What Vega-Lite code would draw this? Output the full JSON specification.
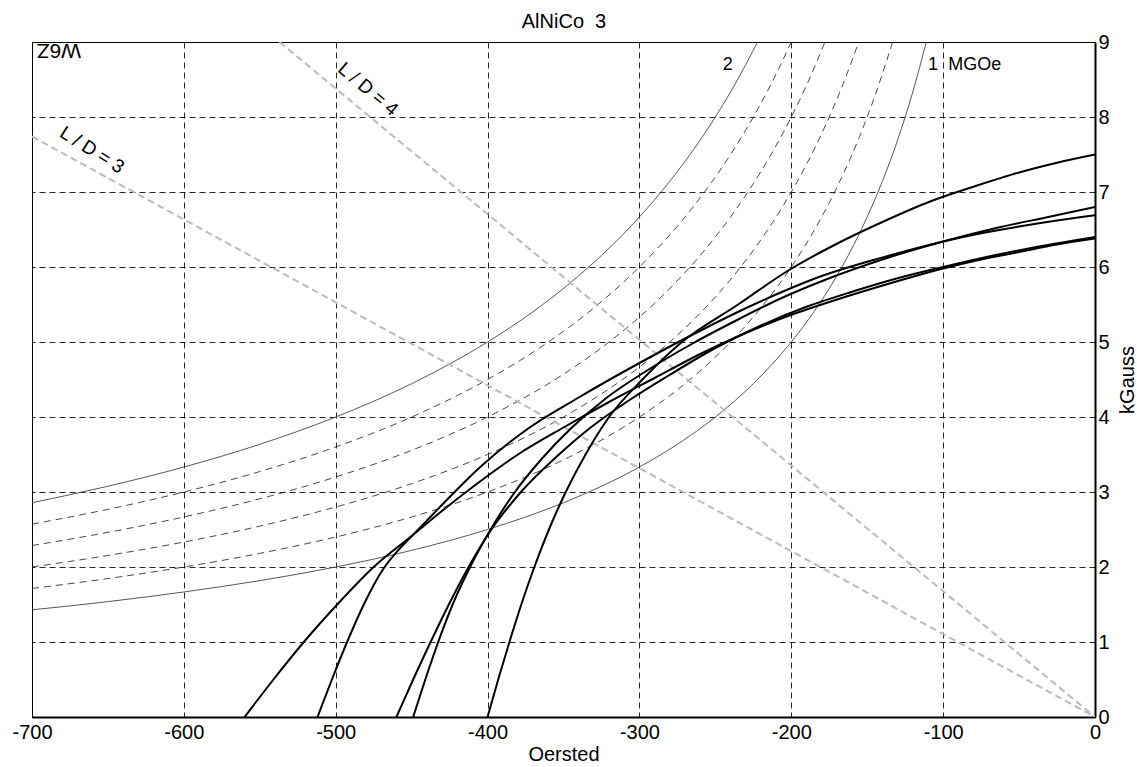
{
  "$schema": "https://vega.github.io/schema/vega-lite/v6.json",
  "width": 1063,
  "height": 675,
  "autosize": {"type": "none"},
  "padding": {"left": 32, "top": 42, "right": 42, "bottom": 50},
  "background": "white",
  "config": {"view": {"stroke": "black", "strokeWidth": 1}, "font": "Liberation Sans"},
  "datasets": {
    "demag": [
      {"s": "C1", "H": -400, "B": 0}, {"s": "C1", "H": -393, "B": 0.5}, {"s": "C1", "H": -385.6, "B": 1.0}, {"s": "C1", "H": -377.8, "B": 1.5}, {"s": "C1", "H": -369.2, "B": 2.0}, {"s": "C1", "H": -359.6, "B": 2.5}, {"s": "C1", "H": -348.5, "B": 3.0}, {"s": "C1", "H": -335.5, "B": 3.5}, {"s": "C1", "H": -320, "B": 4.0}, {"s": "C1", "H": -298, "B": 4.5}, {"s": "C1", "H": -272, "B": 5.0}, {"s": "C1", "H": -235, "B": 5.5}, {"s": "C1", "H": -203, "B": 5.94}, {"s": "C1", "H": -170, "B": 6.31}, {"s": "C1", "H": -140, "B": 6.6}, {"s": "C1", "H": -109, "B": 6.87}, {"s": "C1", "H": -80, "B": 7.07}, {"s": "C1", "H": -50, "B": 7.26}, {"s": "C1", "H": -25, "B": 7.39}, {"s": "C1", "H": 0, "B": 7.5},
      {"s": "C2", "H": -512, "B": 0}, {"s": "C2", "H": -502.5, "B": 0.5}, {"s": "C2", "H": -492.5, "B": 1.0}, {"s": "C2", "H": -481.5, "B": 1.5}, {"s": "C2", "H": -468.5, "B": 1.98}, {"s": "C2", "H": -459, "B": 2.22}, {"s": "C2", "H": -449.5, "B": 2.42}, {"s": "C2", "H": -439, "B": 2.64}, {"s": "C2", "H": -428, "B": 2.87}, {"s": "C2", "H": -405, "B": 3.33}, {"s": "C2", "H": -373, "B": 3.85}, {"s": "C2", "H": -340, "B": 4.26}, {"s": "C2", "H": -300, "B": 4.72}, {"s": "C2", "H": -260, "B": 5.15}, {"s": "C2", "H": -230, "B": 5.45}, {"s": "C2", "H": -207, "B": 5.66}, {"s": "C2", "H": -180, "B": 5.88}, {"s": "C2", "H": -150, "B": 6.07}, {"s": "C2", "H": -125, "B": 6.21}, {"s": "C2", "H": -100, "B": 6.34}, {"s": "C2", "H": -75, "B": 6.45}, {"s": "C2", "H": -50, "B": 6.54}, {"s": "C2", "H": -25, "B": 6.62}, {"s": "C2", "H": 0, "B": 6.69},
      {"s": "C3", "H": -560, "B": 0}, {"s": "C3", "H": -541, "B": 0.5}, {"s": "C3", "H": -521, "B": 1.0}, {"s": "C3", "H": -499, "B": 1.5}, {"s": "C3", "H": -475, "B": 2.0}, {"s": "C3", "H": -449, "B": 2.43}, {"s": "C3", "H": -428, "B": 2.78}, {"s": "C3", "H": -405, "B": 3.14}, {"s": "C3", "H": -380, "B": 3.5}, {"s": "C3", "H": -350, "B": 3.86}, {"s": "C3", "H": -320, "B": 4.2}, {"s": "C3", "H": -290, "B": 4.52}, {"s": "C3", "H": -260, "B": 4.84}, {"s": "C3", "H": -230, "B": 5.12}, {"s": "C3", "H": -207, "B": 5.31}, {"s": "C3", "H": -180, "B": 5.5}, {"s": "C3", "H": -142, "B": 5.74}, {"s": "C3", "H": -100, "B": 5.98}, {"s": "C3", "H": -75, "B": 6.1}, {"s": "C3", "H": -50, "B": 6.2}, {"s": "C3", "H": -25, "B": 6.3}, {"s": "C3", "H": 0, "B": 6.38},
      {"s": "C4", "H": -460, "B": 0}, {"s": "C4", "H": -449, "B": 0.5}, {"s": "C4", "H": -437.5, "B": 1.0}, {"s": "C4", "H": -425.5, "B": 1.5}, {"s": "C4", "H": -412.5, "B": 2.0}, {"s": "C4", "H": -397.5, "B": 2.5}, {"s": "C4", "H": -378, "B": 3.0}, {"s": "C4", "H": -353, "B": 3.5}, {"s": "C4", "H": -334, "B": 3.83}, {"s": "C4", "H": -307, "B": 4.22}, {"s": "C4", "H": -281, "B": 4.55}, {"s": "C4", "H": -250, "B": 4.92}, {"s": "C4", "H": -220, "B": 5.22}, {"s": "C4", "H": -190, "B": 5.47}, {"s": "C4", "H": -160, "B": 5.67}, {"s": "C4", "H": -130, "B": 5.85}, {"s": "C4", "H": -100, "B": 6.0}, {"s": "C4", "H": -70, "B": 6.14}, {"s": "C4", "H": -35, "B": 6.28}, {"s": "C4", "H": 0, "B": 6.4},
      {"s": "C5", "H": -449, "B": 0}, {"s": "C5", "H": -441, "B": 0.5}, {"s": "C5", "H": -432.5, "B": 1.0}, {"s": "C5", "H": -423, "B": 1.5}, {"s": "C5", "H": -411.5, "B": 2.0}, {"s": "C5", "H": -398, "B": 2.5}, {"s": "C5", "H": -382, "B": 3.0}, {"s": "C5", "H": -364, "B": 3.45}, {"s": "C5", "H": -345, "B": 3.85}, {"s": "C5", "H": -322, "B": 4.25}, {"s": "C5", "H": -295, "B": 4.62}, {"s": "C5", "H": -265, "B": 4.98}, {"s": "C5", "H": -235, "B": 5.3}, {"s": "C5", "H": -207, "B": 5.58}, {"s": "C5", "H": -175, "B": 5.85}, {"s": "C5", "H": -140, "B": 6.1}, {"s": "C5", "H": -100, "B": 6.34}, {"s": "C5", "H": -65, "B": 6.52}, {"s": "C5", "H": -30, "B": 6.67}, {"s": "C5", "H": 0, "B": 6.8}
    ],
    "energySolid": [
      {"s": "E1", "H": -700, "B": 1.429}, {"s": "E1", "H": -650, "B": 1.538}, {"s": "E1", "H": -600, "B": 1.667}, {"s": "E1", "H": -550, "B": 1.818}, {"s": "E1", "H": -500, "B": 2.0}, {"s": "E1", "H": -450, "B": 2.222}, {"s": "E1", "H": -400, "B": 2.5}, {"s": "E1", "H": -350, "B": 2.857}, {"s": "E1", "H": -300, "B": 3.333}, {"s": "E1", "H": -275, "B": 3.636}, {"s": "E1", "H": -250, "B": 4.0}, {"s": "E1", "H": -225, "B": 4.444}, {"s": "E1", "H": -200, "B": 5.0}, {"s": "E1", "H": -185, "B": 5.405}, {"s": "E1", "H": -170, "B": 5.882}, {"s": "E1", "H": -155, "B": 6.452}, {"s": "E1", "H": -140, "B": 7.143}, {"s": "E1", "H": -130, "B": 7.692}, {"s": "E1", "H": -120, "B": 8.333}, {"s": "E1", "H": -111.1, "B": 9.0},
      {"s": "E2", "H": -700, "B": 2.857}, {"s": "E2", "H": -650, "B": 3.077}, {"s": "E2", "H": -600, "B": 3.333}, {"s": "E2", "H": -550, "B": 3.636}, {"s": "E2", "H": -500, "B": 4.0}, {"s": "E2", "H": -450, "B": 4.444}, {"s": "E2", "H": -400, "B": 5.0}, {"s": "E2", "H": -370, "B": 5.405}, {"s": "E2", "H": -340, "B": 5.882}, {"s": "E2", "H": -310, "B": 6.452}, {"s": "E2", "H": -285, "B": 7.018}, {"s": "E2", "H": -265, "B": 7.547}, {"s": "E2", "H": -250, "B": 8.0}, {"s": "E2", "H": -235, "B": 8.511}, {"s": "E2", "H": -222.2, "B": 9.0}
    ],
    "energyDashed": [
      {"s": "E1.2", "H": -700, "B": 1.714}, {"s": "E1.2", "H": -650, "B": 1.846}, {"s": "E1.2", "H": -600, "B": 2.0}, {"s": "E1.2", "H": -550, "B": 2.182}, {"s": "E1.2", "H": -500, "B": 2.4}, {"s": "E1.2", "H": -450, "B": 2.667}, {"s": "E1.2", "H": -400, "B": 3.0}, {"s": "E1.2", "H": -350, "B": 3.429}, {"s": "E1.2", "H": -300, "B": 4.0}, {"s": "E1.2", "H": -270, "B": 4.444}, {"s": "E1.2", "H": -240, "B": 5.0}, {"s": "E1.2", "H": -220, "B": 5.455}, {"s": "E1.2", "H": -200, "B": 6.0}, {"s": "E1.2", "H": -185, "B": 6.486}, {"s": "E1.2", "H": -170, "B": 7.059}, {"s": "E1.2", "H": -155, "B": 7.742}, {"s": "E1.2", "H": -145, "B": 8.276}, {"s": "E1.2", "H": -133.3, "B": 9.0},
      {"s": "E1.4", "H": -700, "B": 2.0}, {"s": "E1.4", "H": -650, "B": 2.154}, {"s": "E1.4", "H": -600, "B": 2.333}, {"s": "E1.4", "H": -550, "B": 2.545}, {"s": "E1.4", "H": -500, "B": 2.8}, {"s": "E1.4", "H": -450, "B": 3.111}, {"s": "E1.4", "H": -400, "B": 3.5}, {"s": "E1.4", "H": -350, "B": 4.0}, {"s": "E1.4", "H": -300, "B": 4.667}, {"s": "E1.4", "H": -275, "B": 5.091}, {"s": "E1.4", "H": -250, "B": 5.6}, {"s": "E1.4", "H": -225, "B": 6.222}, {"s": "E1.4", "H": -205, "B": 6.829}, {"s": "E1.4", "H": -190, "B": 7.368}, {"s": "E1.4", "H": -178, "B": 7.865}, {"s": "E1.4", "H": -166, "B": 8.434}, {"s": "E1.4", "H": -155.6, "B": 9.0},
      {"s": "E1.6", "H": -700, "B": 2.286}, {"s": "E1.6", "H": -650, "B": 2.462}, {"s": "E1.6", "H": -600, "B": 2.667}, {"s": "E1.6", "H": -550, "B": 2.909}, {"s": "E1.6", "H": -500, "B": 3.2}, {"s": "E1.6", "H": -450, "B": 3.556}, {"s": "E1.6", "H": -400, "B": 4.0}, {"s": "E1.6", "H": -350, "B": 4.571}, {"s": "E1.6", "H": -320, "B": 5.0}, {"s": "E1.6", "H": -290, "B": 5.517}, {"s": "E1.6", "H": -260, "B": 6.154}, {"s": "E1.6", "H": -240, "B": 6.667}, {"s": "E1.6", "H": -220, "B": 7.273}, {"s": "E1.6", "H": -205, "B": 7.805}, {"s": "E1.6", "H": -190, "B": 8.421}, {"s": "E1.6", "H": -177.8, "B": 9.0},
      {"s": "E1.8", "H": -700, "B": 2.571}, {"s": "E1.8", "H": -650, "B": 2.769}, {"s": "E1.8", "H": -600, "B": 3.0}, {"s": "E1.8", "H": -550, "B": 3.273}, {"s": "E1.8", "H": -500, "B": 3.6}, {"s": "E1.8", "H": -450, "B": 4.0}, {"s": "E1.8", "H": -400, "B": 4.5}, {"s": "E1.8", "H": -360, "B": 5.0}, {"s": "E1.8", "H": -330, "B": 5.455}, {"s": "E1.8", "H": -300, "B": 6.0}, {"s": "E1.8", "H": -275, "B": 6.545}, {"s": "E1.8", "H": -255, "B": 7.059}, {"s": "E1.8", "H": -240, "B": 7.5}, {"s": "E1.8", "H": -225, "B": 8.0}, {"s": "E1.8", "H": -212, "B": 8.491}, {"s": "E1.8", "H": -200, "B": 9.0}
    ],
    "loadLines": [
      {"s": "LD3", "H": -700, "B": 7.74}, {"s": "LD3", "H": 0, "B": 0},
      {"s": "LD4", "H": -537, "B": 9.0}, {"s": "LD4", "H": 0, "B": 0}
    ]
  },
  "encoding": {
    "y": {"field": "B", "type": "quantitative", "scale": {"domain": [0, 9], "nice": false, "zero": false},
      "axis": {"orient": "right", "title": "kGauss", "values": [0, 1, 2, 3, 4, 5, 6, 7, 8, 9], "grid": true, "gridColor": "black", "gridDash": [6, 4], "gridWidth": 1, "gridOpacity": 0.85, "ticks": false, "tickSize": 0, "labelFontSize": 20, "labelFont": "Liberation Sans", "labelColor": "black", "labelPadding": 3, "labelAlign": "left", "titleFont": "Liberation Sans", "titleFontSize": 20, "titleFontWeight": "normal", "titleColor": "black", "titleAngle": 270, "titleBaseline": "top", "titlePadding": 8, "domainColor": "black", "domainWidth": 2}}
  },
  "resolve": {"axis": {"x": "independent"}},
  "layer": [
    {"data": {"name": "energySolid"}, "mark": {"type": "line", "interpolate": "monotone", "stroke": "#444444", "strokeWidth": 0.9, "clip": true},
      "encoding": {"x": {"field": "H", "type": "quantitative", "scale": {"domain": [-700, 0], "nice": false, "zero": false},
        "axis": {"orient": "bottom", "title": "Oersted", "values": [-700, -600, -500, -400, -300, -200, -100, 0], "format": "d", "labelExpr": "replace(datum.label, '\u2212', '-')", "grid": true, "gridColor": "black", "gridDash": [6, 4], "gridWidth": 1, "gridOpacity": 0.85, "ticks": false, "tickSize": 0, "labelFontSize": 20, "labelFont": "Liberation Sans", "labelColor": "black", "labelPadding": 5, "labelFlush": false, "titleFont": "Liberation Sans", "titleFontSize": 20, "titleFontWeight": "normal", "titleColor": "black", "titlePadding": 2, "domainColor": "black", "domainWidth": 2}},
        "detail": {"field": "s"}}},
    {"data": {"name": "energyDashed"}, "mark": {"type": "line", "interpolate": "monotone", "stroke": "#333333", "strokeWidth": 0.9, "strokeDash": [7, 5], "clip": true},
      "encoding": {"x": {"field": "H", "type": "quantitative",
        "axis": {"orient": "top", "title": "AlNiCo\u00a0\u00a03", "labels": false, "ticks": false, "tickSize": 0, "labelPadding": 0, "domain": false, "grid": false, "titleFont": "Liberation Sans", "titleFontSize": 20, "titleFontWeight": "normal", "titleColor": "black", "titlePadding": 11}},
        "detail": {"field": "s"}}},
    {"data": {"name": "loadLines"}, "mark": {"type": "line", "stroke": "#bbbbbb", "strokeWidth": 2, "strokeDash": [7, 4], "clip": true},
      "encoding": {"x": {"field": "H", "type": "quantitative", "axis": null}, "detail": {"field": "s"}}},
    {"data": {"name": "demag"}, "mark": {"type": "line", "interpolate": "monotone", "stroke": "black", "strokeWidth": 2, "clip": true},
      "encoding": {"x": {"field": "H", "type": "quantitative", "axis": null}, "detail": {"field": "s"}}},
    {"data": {"values": [{"H": -241.9, "B": 8.69, "t": "2"}, {"H": -106.7, "B": 8.69, "t": "1"}]}, "mark": {"type": "text", "font": "Liberation Sans", "fontSize": 18, "align": "center", "baseline": "middle", "color": "black"},
      "encoding": {"x": {"field": "H", "type": "quantitative", "axis": null}, "text": {"field": "t"}}},
    {"data": {"values": [{"H": -96.6, "B": 8.69, "t": "MGOe"}]}, "mark": {"type": "text", "font": "Liberation Sans", "fontSize": 18, "align": "left", "baseline": "middle", "color": "black"},
      "encoding": {"x": {"field": "H", "type": "quantitative", "axis": null}, "text": {"field": "t"}}},
    {"data": {"values": [{"H": -660.5, "B": 7.56, "t": "L / D = 3"}]}, "mark": {"type": "text", "font": "Liberation Sans", "fontSize": 19, "align": "center", "baseline": "middle", "angle": 32, "color": "black"},
      "encoding": {"x": {"field": "H", "type": "quantitative", "axis": null}, "text": {"field": "t"}}},
    {"data": {"values": [{"H": -478.7, "B": 8.37, "t": "L / D = 4"}]}, "mark": {"type": "text", "font": "Liberation Sans", "fontSize": 19, "align": "center", "baseline": "middle", "angle": 40, "color": "black"},
      "encoding": {"x": {"field": "H", "type": "quantitative", "axis": null}, "text": {"field": "t"}}},
    {"data": {"values": [{"H": -667.7, "B": 8.967, "t": "W6Z"}]}, "mark": {"type": "text", "font": "Liberation Sans", "fontSize": 21, "align": "left", "baseline": "alphabetic", "angle": 180, "color": "black"},
      "encoding": {"x": {"field": "H", "type": "quantitative", "axis": null}, "text": {"field": "t"}}}
  ]
}
